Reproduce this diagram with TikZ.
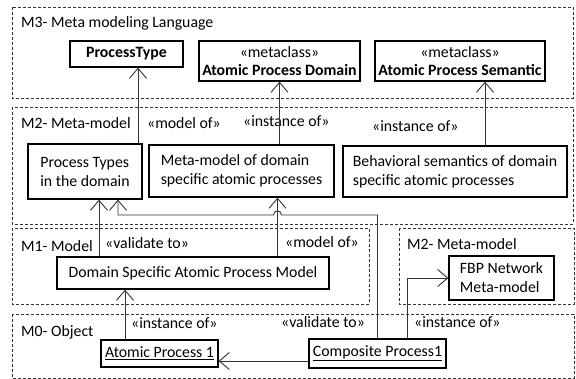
\documentclass[tikz,border=0pt]{standalone}
\usepackage{fontspec}
\setmainfont{Carlito}
\usetikzlibrary{arrows.meta,calc}
\begin{document}
\begin{tikzpicture}[x=1pt,y=-1pt,
  every node/.style={font=\fontsize{15.8}{19}\selectfont},
  layer/.style={draw=black!80, line width=0.8pt, dash pattern=on 3pt off 2pt},
  cls/.style={draw, line width=1.3pt, inner sep=0pt, align=center},
  lbl/.style={anchor=base west, inner sep=0pt},
  arr/.style={draw=black!80, line width=0.9pt, -{Straight Barb[length=10pt,width=17pt,line width=0.9pt]}}
]
\useasboundingbox (0,0) rectangle (576,379);
% layers
\draw[layer] (12,7) rectangle (573,98);
\draw[layer] (12,107) rectangle (573,224);
\draw[layer] (12,228) rectangle (369,304);
\draw[layer] (399,228) rectangle (574,304);
\draw[layer] (12,314) rectangle (574,378);
% layer labels
\node[lbl] (l3) at (21,28) {M3- Meta modeling Language};
\node[lbl] (l2) at (21,129) {M2- Meta-model};
\node[lbl] (l1) at (21,252) {M1- Model};
\node[lbl] (l2b) at (407,250) {M2- Meta-model};
\node[lbl] (l0) at (21,337) {M0- Object};
% M3 classes
\node[cls, minimum width=113pt, minimum height=26pt] (pt) at (126.5,54) {\bfseries ProcessType};
\node[cls, minimum width=161pt, minimum height=40pt] (apd) at (279.5,61) {«metaclass»\\[-1.5pt]\bfseries Atomic Process Domain};
\node[cls, minimum width=170pt, minimum height=40pt] (aps) at (460,61) {«metaclass»\\[-1.5pt]\bfseries Atomic Process Semantic};
% M2
\node[cls, minimum width=114pt, minimum height=55pt, align=left] (ptd) at (85,171.5) {Process Types\\in the domain};
\node[cls, minimum width=185pt, minimum height=52pt, align=left] (mm) at (241.5,171) {Meta-model of domain\\specific atomic processes};
\node[cls, minimum width=224pt, minimum height=51pt, align=left] (beh) at (455,171.5) {Behavioral semantics of domain\\specific atomic processes};
% M1
\node[cls, minimum width=272pt, minimum height=32pt] (dsapm) at (193,273) {Domain Specific Atomic Process Model};
\node[cls, minimum width=105pt, minimum height=44pt, align=left] (fbp) at (501.5,278) {FBP Network\\Meta-model};
% M0
\node[cls, minimum width=117pt, minimum height=27pt] (ap1) at (159.5,353.5) {\underline{Atomic Process 1}};
\node[cls, minimum width=137pt, minimum height=29pt] (cp) at (377.5,353.5) {\underline{Composite Process1}};
% connector labels
\node[lbl] (t1) at (147,129) {«model of»};
\node[lbl] (t2) at (243,127) {«instance of»};
\node[lbl] (t3) at (372,132) {«instance of»};
\node[lbl] (t4) at (105,249) {«validate to»};
\node[lbl] (t5) at (285,248) {«model of»};
\node[lbl] (t6) at (131,329) {«instance of»};
\node[lbl] (t7) at (281,328) {«validate to»};
\node[lbl] (t8) at (414,328) {«instance of»};
% connectors
\draw[arr] ([xshift=53pt]ptd.north) -- ([xshift=53pt]ptd.north |- pt.south);
\draw[arr] (apd.south |- mm.north) -- (apd.south);
\draw[arr] ([xshift=25pt]aps.south |- beh.north) -- ([xshift=25pt]aps.south);
\draw[arr] ([xshift=14pt]ptd.south |- dsapm.north) -- ([xshift=14pt]ptd.south);
\draw[arr] ([xshift=36pt]mm.south |- dsapm.north) -- ([xshift=36pt]mm.south);
\coordinate (bend) at (377.5,215);
\coordinate (hopR) at (281.5,215);
\coordinate (hopL) at (273.5,215);
\draw[arr] (cp.north) -- (bend) -- (hopR) .. controls (281.5,209.5) and (273.5,209.5) .. (hopL) -- ([xshift=33pt]ptd.south |- bend) -- ([xshift=33pt]ptd.south);
\draw[arr] ([xshift=29.5pt]cp.north) |- (fbp.west);
\draw[arr] ([yshift=-7.5pt]cp.west) -- ([yshift=-7.5pt]ap1.east);
\draw[arr] ([xshift=-34.5pt]ap1.north) -- ([xshift=-34.5pt]ap1.north |- dsapm.south);
\end{tikzpicture}
\end{document}
